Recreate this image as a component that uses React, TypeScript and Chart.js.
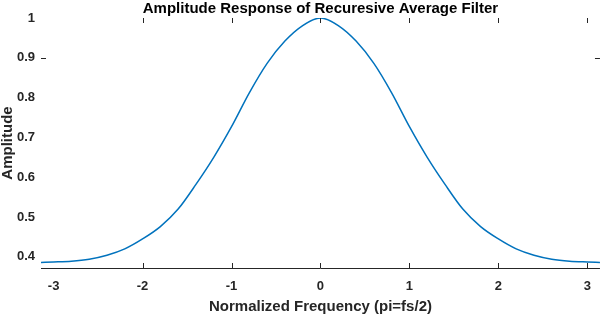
import React, { useEffect, useRef } from "react";
import { Chart, registerables } from "chart.js";

Chart.register(...registerables);

const freqs = [
  -3.1416, -3.0, -2.8, -2.6, -2.4, -2.2, -2.0, -1.8, -1.6, -1.4, -1.2, -1.0, -0.8, -0.6, -0.4, -0.2,
  0, 0.2, 0.4, 0.6, 0.8, 1.0, 1.2, 1.4, 1.6, 1.8, 2.0, 2.2, 2.4, 2.6, 2.8, 3.0, 3.1416,
];
const amplitude = [
  0.386, 0.387, 0.389, 0.394, 0.404, 0.42, 0.445, 0.476, 0.52, 0.582, 0.65, 0.727, 0.812, 0.886, 0.942, 0.981,
  1.0, 0.981, 0.942, 0.886, 0.812, 0.727, 0.65, 0.582, 0.52, 0.476, 0.445, 0.42, 0.404, 0.394, 0.389, 0.387, 0.386,
];
const xTickValues = [-3, -2, -1, 0, 1, 2, 3];
const yTickValues = [0.4, 0.5, 0.6, 0.7, 0.8, 0.9, 1];
const xTickMarks = [-2, -1, 0, 1, 2, 3];
const yTickMarks = [0.9];
const titleText = "Amplitude Response of Recuresive Average Filter";
const xTitleText = "Normalized Frequency (pi=fs/2)";
const yTitleText = "Amplitude";

const FONT = '"Liberation Sans", Arial, Helvetica, sans-serif';
const TEXT = "#262626";

export default function App() {
  const ref = useRef<HTMLCanvasElement | null>(null);

  useEffect(() => {
    document.body.style.margin = "0";
    const canvas = ref.current;
    if (!canvas) return;

    const decor = {
      id: "decor",
      afterDraw(chart: any) {
        const ctx = chart.ctx;
        const area = chart.chartArea;
        const xs = chart.scales.x;
        const ys = chart.scales.y;
        ctx.save();
        ctx.strokeStyle = TEXT;
        ctx.lineWidth = 1;
        ctx.beginPath();
        ctx.moveTo(area.left, Math.round(area.bottom) + 0.5);
        ctx.lineTo(area.right, Math.round(area.bottom) + 0.5);
        for (const v of xTickMarks) {
          const px = Math.round(xs.getPixelForValue(v)) + 0.5;
          ctx.moveTo(px, area.bottom);
          ctx.lineTo(px, area.bottom - 5);
          ctx.moveTo(px, area.top);
          ctx.lineTo(px, area.top + 5);
        }
        for (const v of yTickMarks) {
          const py = Math.round(ys.getPixelForValue(v)) + 0.5;
          ctx.moveTo(area.left, py);
          ctx.lineTo(area.left + 5, py);
          ctx.moveTo(area.right, py);
          ctx.lineTo(area.right - 5, py);
        }
        ctx.stroke();

        ctx.fillStyle = "#000";
        ctx.font = `bold 15px ${FONT}`;
        ctx.textAlign = "center";
        ctx.textBaseline = "alphabetic";
        const cx = (area.left + area.right) / 2;
        ctx.fillText(titleText, cx, 13);
        ctx.fillStyle = TEXT;
        ctx.fillText(xTitleText, cx, 311);
        ctx.translate(12, (area.top + area.bottom) / 2);
        ctx.rotate(-Math.PI / 2);
        ctx.fillText(yTitleText, 0, 0);
        ctx.restore();
      },
    };

    const chart = new Chart(canvas, {
      type: "line",
      data: {
        datasets: [
          {
            data: freqs.map((f, i) => ({ x: f, y: amplitude[i] })),
            borderColor: "#0072BD",
            borderWidth: 1.5,
            pointRadius: 0,
            cubicInterpolationMode: "monotone",
            fill: false,
          },
        ],
      },
      options: {
        animation: false,
        responsive: false,
        devicePixelRatio: 1,
        layout: { padding: { top: 18, right: 1, left: 0, bottom: 0 } },
        plugins: { legend: { display: false }, title: { display: false }, tooltip: { enabled: false } },
        scales: {
          x: {
            type: "linear",
            min: -3.1416,
            max: 3.1416,
            grid: { display: false, drawTicks: false },
            border: { display: false },
            afterBuildTicks: (s: any) => {
              s.ticks = xTickValues.map((v) => ({ value: v }));
            },
            afterFit: (s: any) => {
              s.height = 46;
            },
            ticks: {
              autoSkip: false,
              maxRotation: 0,
              padding: 11,
              color: TEXT,
              font: { family: FONT, size: 13, weight: "bold" },
              callback: (v: any) => String(v),
            },
          },
          y: {
            type: "linear",
            min: 0.372,
            max: 1,
            grid: { display: false, drawTicks: false },
            border: { display: false },
            afterBuildTicks: (s: any) => {
              s.ticks = yTickValues.map((v) => ({ value: v }));
            },
            afterFit: (s: any) => {
              s.width = 41;
            },
            ticks: {
              autoSkip: false,
              padding: 6,
              color: TEXT,
              font: { family: FONT, size: 13, weight: "bold" },
              callback: (v: any) => String(Math.round(v * 10) / 10),
            },
          },
        },
      },
      plugins: [decor],
    } as any);

    return () => chart.destroy();
  }, []);

  return (
    <div style={{ position: "absolute", left: 0, top: 0, width: 602, height: 314 }}>
      <canvas ref={ref} width={602} height={314} />
    </div>
  );
}
